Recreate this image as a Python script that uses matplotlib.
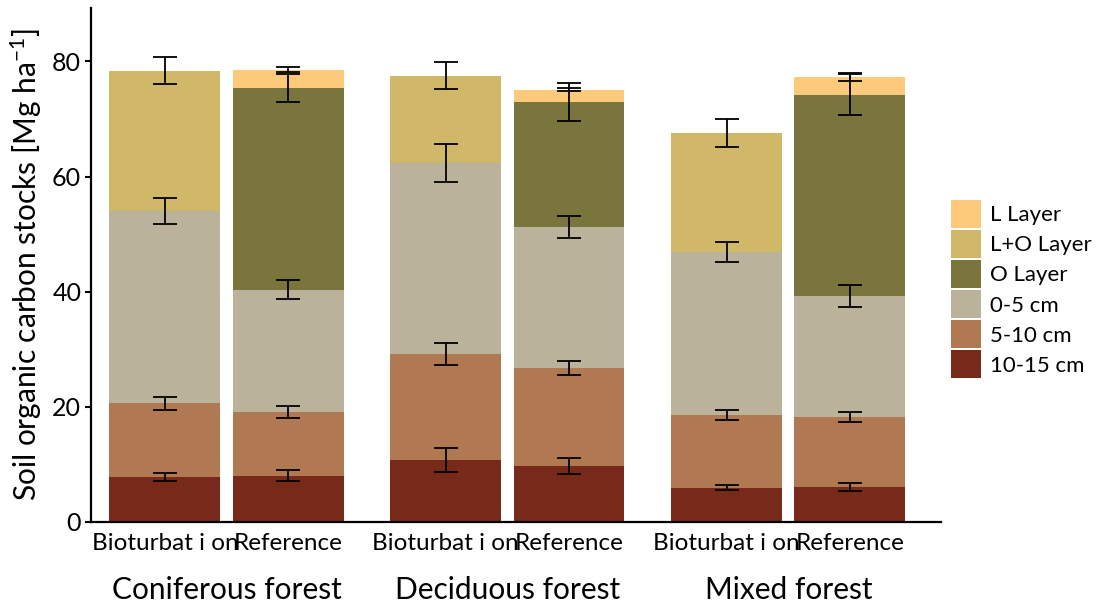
import numpy as np
import matplotlib
matplotlib.use("Agg")
import matplotlib.pyplot as plt
from matplotlib.patches import Patch
from matplotlib.transforms import blended_transform_factory

plt.rcParams['font.family'] = ['Lato', 'DejaVu Sans']
plt.rcParams['mathtext.default'] = 'regular'

forests = ['Coniferous forest', 'Deciduous forest', 'Mixed forest']
treatments = ['Bioturbat i on', 'Reference']

# layer thickness per bar (Con-Bio, Con-Ref, Dec-Bio, Dec-Ref, Mix-Bio, Mix-Ref), bottom to top
layers = ['10-15 cm', '5-10 cm', '0-5 cm', 'O Layer', 'L+O Layer', 'L Layer']
d10_15 = [7.8, 8.0, 10.7, 9.7, 5.9, 6.0]
d5_10 = [12.8, 11.1, 18.5, 17.0, 12.65, 12.2]
d0_5 = [33.4, 21.2, 33.1, 24.55, 28.35, 21.05]
o_layer = [0, 35.1, 0, 21.75, 0, 35.0]
lo_layer = [24.4, 0, 15.2, 0, 20.7, 0]
l_layer = [0, 3.2, 0, 2.1, 0, 3.0]

# standard errors
e10_15 = [0.65, 0.9, 2.1, 1.35, 0.45, 0.7]
e5_10 = [1.1, 1.0, 1.9, 1.15, 0.9, 0.95]
e0_5 = [2.2, 1.65, 3.3, 1.95, 1.75, 1.9]
e_o = [0, 2.5, 0, 3.3, 0, 3.6]
e_lo = [2.35, 0, 2.35, 0, 2.4, 0]
e_l = [0, 0.4, 0, 0.3, 0, 0.7]

colors = ['#772a19', '#b17952', '#bab29a', '#7a753d', '#d0b868', '#fdc97b']

values = [d10_15, d5_10, d0_5, o_layer, lo_layer, l_layer]
errors = [e10_15, e5_10, e0_5, e_o, e_lo, e_l]

fig = plt.figure(figsize=(10.96, 6.05), dpi=100)
ax = fig.add_axes([0.083, 0.1377, 0.7756, 0.8491])

group_step = 2.28
x = []
for g in range(len(forests)):
    for t in range(len(treatments)):
        x.append(g * group_step + t)
x = np.array(x)

bottom = np.zeros(len(x))
for vals, errs, col in zip(values, errors, colors):
    vals = np.array(vals)
    ax.bar(x, vals, width=0.9, bottom=bottom, color=col, linewidth=0)
    top = bottom + vals
    mask = vals > 0
    ax.errorbar(x[mask], top[mask], yerr=np.array(errs)[mask], fmt='none',
                ecolor='black', elinewidth=1.3, capsize=8.5, capthick=1.3, zorder=3)
    bottom = top

ax.set_xlim(-0.6, 6.3)
ax.set_ylim(0, 89.3)
ax.set_yticks([0, 20, 40, 60, 80])
ax.set_xticks(x)
ax.set_xticklabels(treatments * len(forests))
ax.tick_params(axis='x', length=0, pad=8, labelsize=17.5)
ax.tick_params(axis='y', length=4, width=1.5, labelsize=18, pad=3)
ax.spines['top'].set_visible(False)
ax.spines['right'].set_visible(False)
ax.spines['left'].set_linewidth(1.6)
ax.spines['bottom'].set_linewidth(1.6)
ax.set_ylabel('Soil organic carbon stocks [Mg ha$^{-1}$]', fontsize=21.5, labelpad=6)

trans = blended_transform_factory(ax.transData, ax.transAxes)
for g, name in enumerate(forests):
    ax.text(g * group_step + 0.5, -0.132, name, transform=trans,
            ha='center', va='center', fontsize=21.5)

handles = [Patch(facecolor=c, edgecolor='none') for c in colors]
fig.legend(handles[::-1], layers[::-1], loc='center left',
           bbox_to_anchor=(0.868, 0.522), frameon=False, fontsize=16,
           handlelength=1.35, handleheight=1.55, labelspacing=0.1,
           handletextpad=0.4, borderaxespad=0, borderpad=0)

fig.savefig('out.png', dpi=100)
